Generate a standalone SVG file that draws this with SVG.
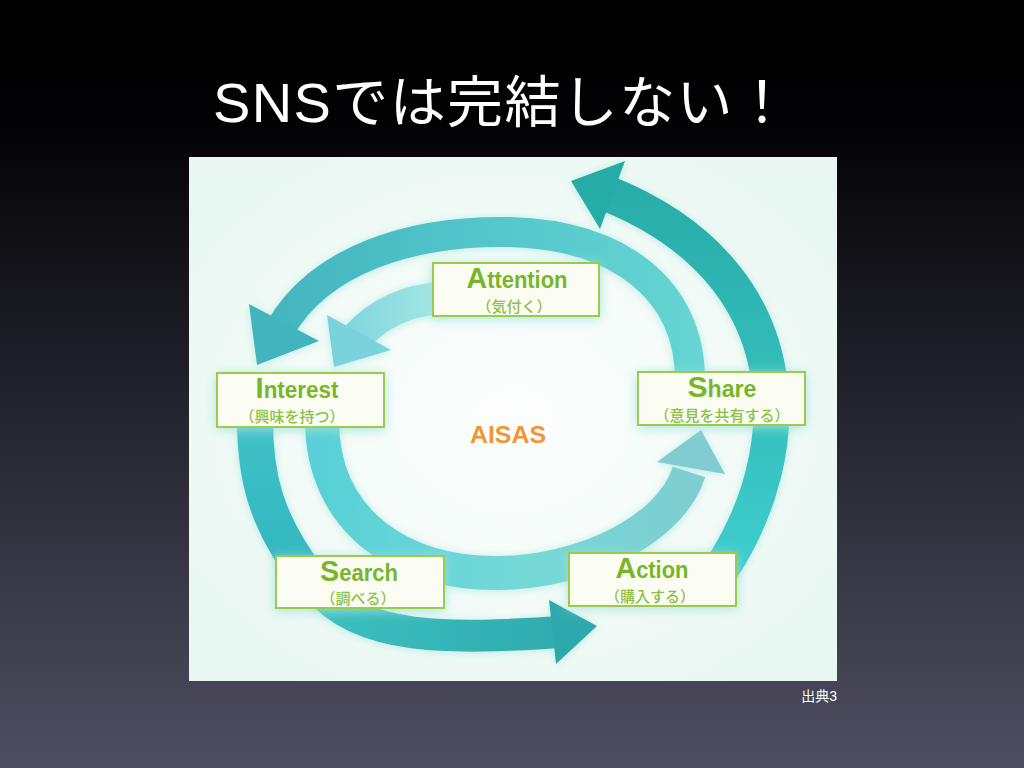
<svg xmlns="http://www.w3.org/2000/svg" width="1024" height="768" viewBox="0 0 1024 768">
<defs>
<style>
.box{fill:#fbfdf3;stroke:#9ccb4c;stroke-width:2}
.t{font-family:"Liberation Sans Narrow","Liberation Sans",Arial,sans-serif;font-weight:bold;fill:#78b52a;text-anchor:middle;font-size:23px}
.big{font-size:30px}
.s{font-family:"Noto Sans CJK JP","Noto Sans",sans-serif;font-size:15px;fill:#8cc148;text-anchor:middle;font-weight:500}
.band{fill:none;stroke-linecap:butt}
</style>
<linearGradient id="bg" x1="0" y1="0" x2="0" y2="1">
<stop offset="0" stop-color="#000000"/>
<stop offset="0.15" stop-color="#020204"/>
<stop offset="1" stop-color="#4e4e61"/>
</linearGradient>
<radialGradient id="panel" cx="0.5" cy="0.5" r="0.6">
<stop offset="0" stop-color="#fbfefd"/>
<stop offset="0.6" stop-color="#f3fbf8"/>
<stop offset="1" stop-color="#e9f7f2"/>
</radialGradient>
<linearGradient id="gA" gradientUnits="userSpaceOnUse" x1="0" y1="175" x2="0" y2="560">
<stop offset="0" stop-color="#28aca7"/>
<stop offset="1" stop-color="#3dcccc"/>
</linearGradient>
<linearGradient id="gB" gradientUnits="userSpaceOnUse" x1="250" y1="0" x2="705" y2="0">
<stop offset="0" stop-color="#42b3bd"/>
<stop offset="0.5" stop-color="#52c6ca"/>
<stop offset="1" stop-color="#66d5d3"/>
</linearGradient>
<linearGradient id="gC" gradientUnits="userSpaceOnUse" x1="330" y1="0" x2="440" y2="0">
<stop offset="0" stop-color="#79d3dc"/>
<stop offset="1" stop-color="#a3e7e4"/>
</linearGradient>
<linearGradient id="gD" gradientUnits="userSpaceOnUse" x1="0" y1="425" x2="0" y2="565">
<stop offset="0" stop-color="#3ec1c7"/>
<stop offset="1" stop-color="#33b7bf"/>
</linearGradient>
<linearGradient id="gE" gradientUnits="userSpaceOnUse" x1="320" y1="0" x2="600" y2="0">
<stop offset="0" stop-color="#3bbfc0"/>
<stop offset="1" stop-color="#2ea9ab"/>
</linearGradient>
<linearGradient id="gF" gradientUnits="userSpaceOnUse" x1="320" y1="0" x2="720" y2="0">
<stop offset="0" stop-color="#58d0d5"/>
<stop offset="0.5" stop-color="#74d9d8"/>
<stop offset="1" stop-color="#80ccd0"/>
</linearGradient>
<filter id="soft" x="-20%" y="-20%" width="140%" height="140%">
<feDropShadow dx="0" dy="1" stdDeviation="4" flood-color="#92dcd6" flood-opacity="0.55"/>
</filter>
<filter id="halo" x="-20%" y="-50%" width="140%" height="200%">
<feDropShadow dx="0" dy="2" stdDeviation="6" flood-color="#a2e2dc" flood-opacity="0.9"/>
</filter>
</defs>

<rect x="0" y="0" width="1024" height="768" fill="url(#bg)"/>
<text x="213" y="122" font-family="'Liberation Sans','Noto Sans CJK JP',sans-serif" font-size="56" fill="#ffffff" textLength="577">SNSでは完結しない！</text>

<rect x="189" y="157" width="648" height="524" fill="url(#panel)"/>

<g id="connectors" filter="url(#soft)">
<g id="arrow-share-top">
<path class="band" d="M715 578 C 805 450, 800 270, 606 193" stroke="url(#gA)" stroke-width="36"/>
<polygon points="625,161 571,181 600,229" fill="#28aca7"/>
</g>
<g id="arrow-share-interest">
<path class="band" d="M690 380 C 690 290, 620 235, 510 232 C 410 230, 320 260, 280 329" stroke="url(#gB)" stroke-width="30"/>
<polygon points="249,304 257,365 319,341" fill="#43b4be"/>
</g>
<g id="arrow-attention-interest">
<path class="band" d="M445 298 C 410 299, 380 311, 355 339" stroke="url(#gC)" stroke-width="32"/>
<polygon points="327,315 334,367 391,350" fill="#7ad3dc"/>
</g>
<g id="arrow-interest-search">
<path class="band" d="M255 420 C 255 480, 268 520, 300 566" stroke="url(#gD)" stroke-width="36"/>
</g>
<g id="arrow-search-action">
<path class="band" d="M318 588 C 360 640, 450 640, 558 632" stroke="url(#gE)" stroke-width="32"/>
<polygon points="549,600 597,626 556,664" fill="#2ea9ab"/>
</g>
<g id="arrow-interest-share">
<path class="band" d="M322 420 C 322 520, 400 575, 500 573 C 580 572, 670 532, 689 472" stroke="url(#gF)" stroke-width="34"/>
<polygon points="657,462 701,430 725,474" fill="#80ccd0"/>
</g>
</g>

<g id="node-attention">
<rect class="box" x="433" y="263" width="166" height="53" filter="url(#halo)"/>
<text class="t" x="517" y="288" textLength="101" lengthAdjust="spacingAndGlyphs"><tspan class="big">A</tspan>ttention</text>
<text class="s" x="514" y="311.5">（気付く）</text>
</g>
<g id="node-interest">
<rect class="box" x="217" y="373" width="167" height="54" filter="url(#halo)"/>
<text class="t" x="297" y="398" textLength="83" lengthAdjust="spacingAndGlyphs"><tspan class="big">I</tspan>nterest</text>
<text class="s" x="292" y="421.5">（興味を持つ）</text>
</g>
<g id="node-share">
<rect class="box" x="638" y="372" width="167" height="53" filter="url(#halo)"/>
<text class="t" x="722" y="397" textLength="69" lengthAdjust="spacingAndGlyphs"><tspan class="big">S</tspan>hare</text>
<text class="s" x="722" y="420.5">（意見を共有する）</text>
</g>
<g id="node-search">
<rect class="box" x="276" y="556" width="168" height="52" filter="url(#halo)"/>
<text class="t" x="359" y="581" textLength="78" lengthAdjust="spacingAndGlyphs"><tspan class="big">S</tspan>earch</text>
<text class="s" x="358" y="604">（調べる）</text>
</g>
<g id="node-action">
<rect class="box" x="569" y="553" width="167" height="53" filter="url(#halo)"/>
<text class="t" x="652" y="578" textLength="73" lengthAdjust="spacingAndGlyphs"><tspan class="big">A</tspan>ction</text>
<text class="s" x="650" y="601.5">（購入する）</text>
</g>
<g id="node-aisas">
<text x="508" y="443" font-family="'Liberation Sans',Arial,sans-serif" font-weight="bold" font-size="24" fill="#f39436" text-anchor="middle" textLength="76" lengthAdjust="spacingAndGlyphs">AISAS</text>
</g>

<text x="837" y="701" font-family="'Liberation Sans','Noto Sans CJK JP',sans-serif" font-size="14" fill="#ffffff" text-anchor="end">出典3</text>
</svg>
